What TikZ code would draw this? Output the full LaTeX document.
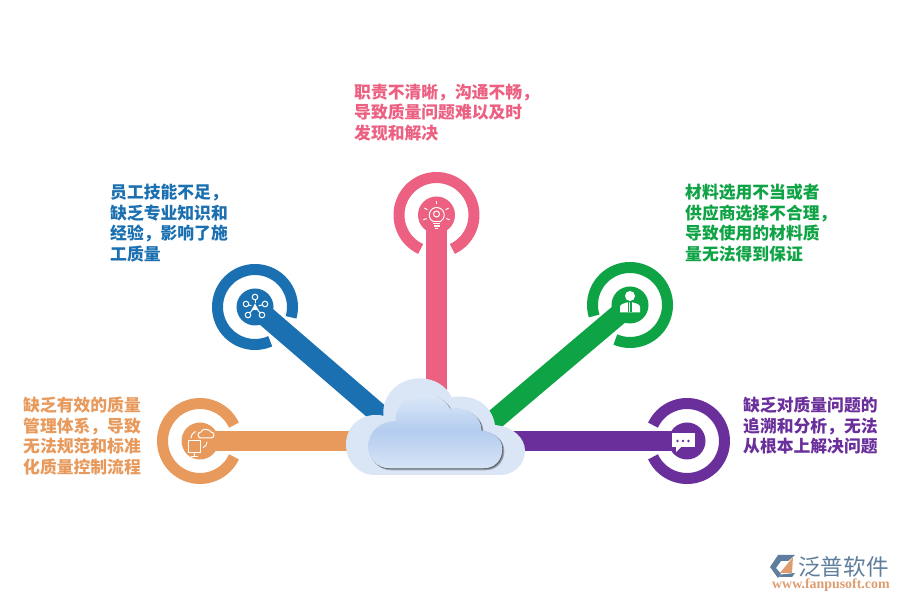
\documentclass[tikz,border=0pt]{standalone}
\usepackage{fontspec}
\usepackage{tikz}
\newfontfamily\cjk{Noto Sans CJK SC}
\newfontfamily\logoserif{Liberation Serif}
\definecolor{hubOrange}{HTML}{E89A5C}
\definecolor{hubBlue}{HTML}{1A70B0}
\definecolor{hubPink}{HTML}{EC6081}
\definecolor{hubGreen}{HTML}{0EA345}
\definecolor{hubPurple}{HTML}{6B2F9C}
\definecolor{cloudBack}{HTML}{DAE6F6}
\definecolor{cloudTop}{HTML}{DDE9F9}
\definecolor{cloudMid}{HTML}{B4CCEE}
\definecolor{cloudLow}{HTML}{D6E4F7}
\definecolor{logoBlue}{HTML}{5F7D9C}
\definecolor{logoOrange}{HTML}{DE9C70}
\tikzset{
    hubdisc/.style={circle,fill=#1,minimum size=37pt,inner sep=0pt},
    spoke/.style={line width=20.5pt,#1},
    note/.style={anchor=north west,align=left,inner sep=0pt,text=#1,
        font=\cjk\bfseries\fontsize{16.8}{20.5}\selectfont},
    iconline/.style={draw=white,line width=1pt,fill=none},
    iconfill/.style={fill=white,draw=none}
}
\begin{document}
\begin{tikzpicture}[x=1pt,y=1pt] % one unit is one pixel of the page
        % Page area
        \fill[white] (0,0) rectangle (900,600);
        \useasboundingbox (0,0) rectangle (900,600);
        \def\gapHalf{25}

        % Ends of the spokes, under the cloud
        \coordinate (cloudW) at (400,159);
        \coordinate (cloudNW) at (400,168);
        \coordinate (cloudN) at (436.5,160);
        \coordinate (cloudNE) at (480,168);
        \coordinate (cloudE) at (480,159);

        % Hubs: disc, broken ring and spoke
        \foreach \hubName/\hubX/\hubY/\gapDir/\hubEnd in {
            hubOrange/200/159/0/cloudW,
            hubBlue/255/293/-41/cloudNW,
            hubPink/436.5/385/-90/cloudN,
            hubGreen/630/295/-138/cloudNE,
            hubPurple/687/159/180/cloudE} {
            \node[hubdisc=\hubName] (disc\hubName) at (\hubX,\hubY) {};
            \draw[\hubName,line width=11pt]
                ([shift={(\gapDir+\gapHalf:37.5)}]disc\hubName.center)
                arc[start angle=\gapDir+\gapHalf,end angle=\gapDir+360-\gapHalf,radius=37.5];
            \draw[spoke=\hubName] (disc\hubName.center) -- (\hubEnd);
        }

        % Cloud, traced in three times the page size
        \begin{scope}[shift={(340,240)},xscale=1/3,yscale=-1/3]
            \fill[cloudBack] (105,345) .. controls (55,345) and (18,305) .. (18,255)
                .. controls (18,205) and (50,170) .. (100,165)
                .. controls (115,165) and (125,165) .. (130,168)
                .. controls (125,100) and (180,55) .. (240,55)
                .. controls (285,55) and (320,80) .. (335,112)
                .. controls (395,100) and (455,130) .. (465,195)
                .. controls (520,200) and (555,235) .. (555,272)
                .. controls (555,315) and (520,345) .. (480,345) -- cycle;
            \foreach \shadowStep/\shadowTone in {6/25,4/40,2/60} {
                \fill[black!\shadowTone!cloudBack,shift={(\shadowStep,\shadowStep)}]
                    (150,325) .. controls (110,325) and (85,295) .. (85,258)
                    .. controls (85,215) and (120,183) .. (167,183)
                    .. controls (165,135) and (205,100) .. (250,100)
                    .. controls (285,100) and (315,118) .. (330,145)
                    .. controls (385,140) and (425,170) .. (425,212)
                    .. controls (465,215) and (487,240) .. (487,267)
                    .. controls (487,300) and (465,325) .. (430,325) -- cycle;
            }
            \shade[top color=cloudTop,bottom color=cloudLow,middle color=cloudMid]
                (150,325) .. controls (110,325) and (85,295) .. (85,258)
                .. controls (85,215) and (120,183) .. (167,183)
                .. controls (165,135) and (205,100) .. (250,100)
                .. controls (285,100) and (315,118) .. (330,145)
                .. controls (385,140) and (425,170) .. (425,212)
                .. controls (465,215) and (487,240) .. (487,267)
                .. controls (487,300) and (465,325) .. (430,325) -- cycle;
        \end{scope}

        % Orange icon
        \begin{scope}[shift={(dischubOrange.center)}]
            \draw[iconline] (-12,-12) rectangle (0,0);
            \draw[iconline] (-6,-12) -- (-6,-15.5) (-9.5,-15.5) -- (-2.5,-15.5);
            \draw[iconline] (-1,3) -- (11,3) arc[start angle=-90,end angle=90,radius=3]
                .. controls (10,12) and (2,13) .. (1,9)
                arc[start angle=90,end angle=270,radius=3] -- cycle;
            \draw[iconline] (-9,3) arc[start angle=180,end angle=110,radius=7];
            \draw[iconline] (7,-1) arc[start angle=0,end angle=-70,radius=6];
        \end{scope}

        % Blue icon
        \begin{scope}[shift={(dischubBlue.center)}]
            \foreach \nodeX/\nodeY in {0/10,-9/3,10/3,-7/-8,7/-8} {
                \draw[iconline] (0,0) -- (\nodeX,\nodeY);
                \fill[hubBlue] (\nodeX,\nodeY) circle (2.8);
                \draw[iconline] (\nodeX,\nodeY) circle (2.8);
            }
            \fill[hubBlue] (0,0) circle (4);
            \fill[iconfill] (-3.5,-3) -- (0,3.5) -- (3.5,-3) -- cycle;
        \end{scope}

        % Pink icon
        \begin{scope}[shift={(dischubPink.center)}]
            \draw[iconline] (-3.5,-6.5) arc[start angle=240,end angle=-60,radius=7.5] -- cycle;
            \draw[iconline] (0,1) circle (3);
            \fill[iconfill] (-3.5,-8) rectangle (3.5,-9.5);
            \fill[iconfill] (-3,-10.5) rectangle (3,-12);
            \fill[iconfill] (-1.5,-13) rectangle (1.5,-14.5);
            \foreach \rayDir in {-20,30,90,150,200} {
                \draw[iconline] (\rayDir:10.5) -- (\rayDir:14);
            }
        \end{scope}

        % Green icon
        \begin{scope}[shift={(dischubGreen.center)}]
            \fill[iconfill] (0,9) circle (5);
            \fill[iconfill] (-10,-7.5) -- (-10,-2) .. controls (-10,1) and (-6,1.5) .. (-3,2.5)
                -- (3,2.5) .. controls (6,1.5) and (10,1) .. (10,-2) -- (10,-7.5) -- cycle;
            \draw[hubGreen,line width=1pt] (0,2.5) -- (0,-7.5);
            \draw[hubGreen,line width=0.7pt] (-1.5,2.5) -- (-1.5,-7.5) (1.5,2.5) -- (1.5,-7.5);
        \end{scope}

        % Purple icon
        \begin{scope}[shift={(dischubPurple.center)}]
            \fill[iconfill] (-15,8) rectangle (7.5,-6.5);
            \fill[iconfill] (-11,-6) -- (-11,-11) -- (-6,-6) -- cycle;
            \foreach \dotX in {-9.5,-4,1.5} {
                \fill[hubPurple] (\dotX,0) circle (1.4);
            }
        \end{scope}

        % Texts
        \node[note=hubPink] (notePink) at (354,516.5) {职责不清晰，沟通不畅，\\导致质量问题难以及时\\发现和解决};
        \node[note=hubBlue] (noteBlue) at (110,416) {员工技能不足，\\缺乏专业知识和\\经验，影响了施\\工质量};
        \node[note=hubGreen] (noteGreen) at (685,416) {材料选用不当或者\\供应商选择不合理，\\导致使用的材料质\\量无法得到保证};
        \node[note=hubOrange] (noteOrange) at (23,203) {缺乏有效的质量\\管理体系，导致\\无法规范和标准\\化质量控制流程};
        \node[note=hubPurple] (notePurple) at (743,203) {缺乏对质量问题的\\追溯和分析，无法\\从根本上解决问题};

        % Logo
        \fill[logoBlue] (770,33) -- (778,45) -- (795,45) -- (788,39) -- (781,39) -- (776,32) -- (781,26) -- (778,22) -- cycle;
        \fill[logoOrange] (780,27) -- (793,43) -- (792,27) -- cycle;
        \fill[logoBlue] (779,23) -- (792,23) -- (795,27) -- (781,25.5) -- cycle;
        \node[anchor=west,inner sep=0pt,text=logoBlue,font=\cjk\fontsize{22.6}{23}\selectfont] (logoName) at (798,33.5) {泛普软件};
        \node[anchor=west,inner sep=0pt,text=logoOrange,font=\logoserif\bfseries\fontsize{13.9}{14}\selectfont] (logoSite) at (772,15) {www.fanpusoft.com};

    \end{tikzpicture}
\end{document}
